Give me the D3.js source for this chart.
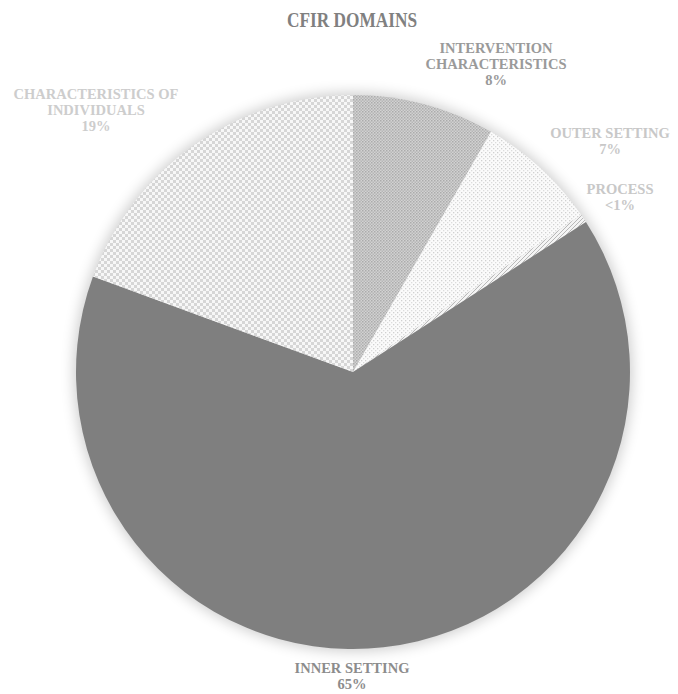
<!DOCTYPE html>
<html lang="en">
    <head>
        <meta charset="utf-8">
        <title>CFIR Domains</title>
        <script src="https://d3js.org/d3.v7.min.js" charset="utf-8"></script>
        <style>
        body { margin: 0; background: #fff; }
        .chart text {
            font-family: "Liberation Serif", "Times New Roman", serif;
            font-weight: bold;
            text-anchor: middle;
        }
        </style>
    </head>
    <body>
        <svg class="chart"></svg>
        <script type="text/javascript">

// data
var domains = ['INTERVENTION CHARACTERISTICS', 'OUTER SETTING', 'PROCESS', 'INNER SETTING', 'CHARACTERISTICS OF INDIVIDUALS'];
var shares = [8.3, 7.1, 0.5, 64.7, 19.4];
var shareLabels = ['8%', '7%', '<1%', '65%', '19%'];
var labelLines = [['INTERVENTION', 'CHARACTERISTICS'], ['OUTER SETTING'], ['PROCESS'], ['INNER SETTING'], ['CHARACTERISTICS OF', 'INDIVIDUALS']];

(function () {
  var width = 678, height = 694;
  var cx = 353, cy = 372, radius = 277;

  // baseline of first line of each label block, and its colour
  var labelAt = [[496, 53], [610, 138], [620, 194], [352, 673], [96, 99]];
  var labelColours = ['#9a9a9a', '#c8c8c8', '#c8c8c8', '#8c8c8c', '#cdcdcd'];
  var fills = ['url(#pInter)', 'url(#pOuter)', 'url(#pProc)', '#7f7f7f', 'url(#pIndiv)'];

  var svg = d3.select('.chart')
      .attr('width', width)
      .attr('height', height);

  var defs = svg.append('defs');

  // fine dots, mid grey
  var p1 = defs.append('pattern').attr('id', 'pInter')
      .attr('width', 3).attr('height', 3).attr('patternUnits', 'userSpaceOnUse');
  p1.append('rect').attr('width', 3).attr('height', 3).attr('fill', '#d2d2d2');
  p1.append('rect').attr('width', 1.5).attr('height', 1.5).attr('fill', '#ababab');
  p1.append('rect').attr('x', 1.5).attr('y', 1.5).attr('width', 1.5).attr('height', 1.5).attr('fill', '#b6b6b6');

  // sparse dots on white
  var p2 = defs.append('pattern').attr('id', 'pOuter')
      .attr('width', 4).attr('height', 4).attr('patternUnits', 'userSpaceOnUse');
  p2.append('rect').attr('width', 4).attr('height', 4).attr('fill', '#fbfbfb');
  p2.append('rect').attr('width', 1.3).attr('height', 1.3).attr('fill', '#d0d0d0');
  p2.append('rect').attr('x', 2).attr('y', 2).attr('width', 1.3).attr('height', 1.3).attr('fill', '#dcdcdc');

  // diagonal hatch
  var p3 = defs.append('pattern').attr('id', 'pProc')
      .attr('width', 4).attr('height', 4).attr('patternUnits', 'userSpaceOnUse');
  p3.append('rect').attr('width', 4).attr('height', 4).attr('fill', '#f4f4f4');
  p3.append('path').attr('d', 'M0,4 L4,0').attr('stroke', '#b8b8b8').attr('stroke-width', 1);

  // checker
  var p4 = defs.append('pattern').attr('id', 'pIndiv')
      .attr('width', 6).attr('height', 6).attr('patternUnits', 'userSpaceOnUse');
  p4.append('rect').attr('width', 6).attr('height', 6).attr('fill', '#f7f7f7');
  p4.append('rect').attr('width', 3).attr('height', 3).attr('fill', '#d6d6d6');
  p4.append('rect').attr('x', 3).attr('y', 3).attr('width', 3).attr('height', 3).attr('fill', '#d6d6d6');

  var glow = defs.append('filter').attr('id', 'glow')
      .attr('x', '-20%').attr('y', '-20%').attr('width', '140%').attr('height', '140%');
  glow.append('feGaussianBlur').attr('stdDeviation', 7);

  svg.append('text')
      .attr('x', 352).attr('y', 27)
      .style('font-size', '22px')
      .attr('textLength', 130)
      .attr('lengthAdjust', 'spacingAndGlyphs')
      .attr('fill', '#808080')
      .text('CFIR DOMAINS');

  var g = svg.append('g').attr('transform', 'translate(' + cx + ',' + cy + ')');

  g.append('circle').attr('r', radius + 2)
      .attr('fill', '#000').attr('opacity', 0.2)
      .attr('filter', 'url(#glow)');

  var pie = d3.pie().sort(null).value(function(d) { return d; });
  var arc = d3.arc().innerRadius(0).outerRadius(radius);

  g.selectAll('path.slice')
      .data(pie(shares))
      .enter()
      .append('path')
      .attr('class', 'slice')
      .attr('d', arc)
      .attr('fill', function(d, i) { return fills[i]; });

  var labels = svg.selectAll('g.label')
      .data(domains)
      .enter()
      .append('g')
      .attr('class', 'label')
      .attr('transform', function(d, i) { return 'translate(' + labelAt[i][0] + ',' + labelAt[i][1] + ')'; });

  labels.append('text')
      .style('font-size', '14.5px')
      .attr('fill', function(d, i) { return labelColours[i]; })
      .each(function(d, i) {
        var t = d3.select(this);
        var lines = labelLines[i].concat([shareLabels[i]]);
        lines.forEach(function(line, k) {
          t.append('tspan').attr('x', 0).attr('y', k * 16).text(line);
        });
      });
})();

        </script>
    </body>
</html>
